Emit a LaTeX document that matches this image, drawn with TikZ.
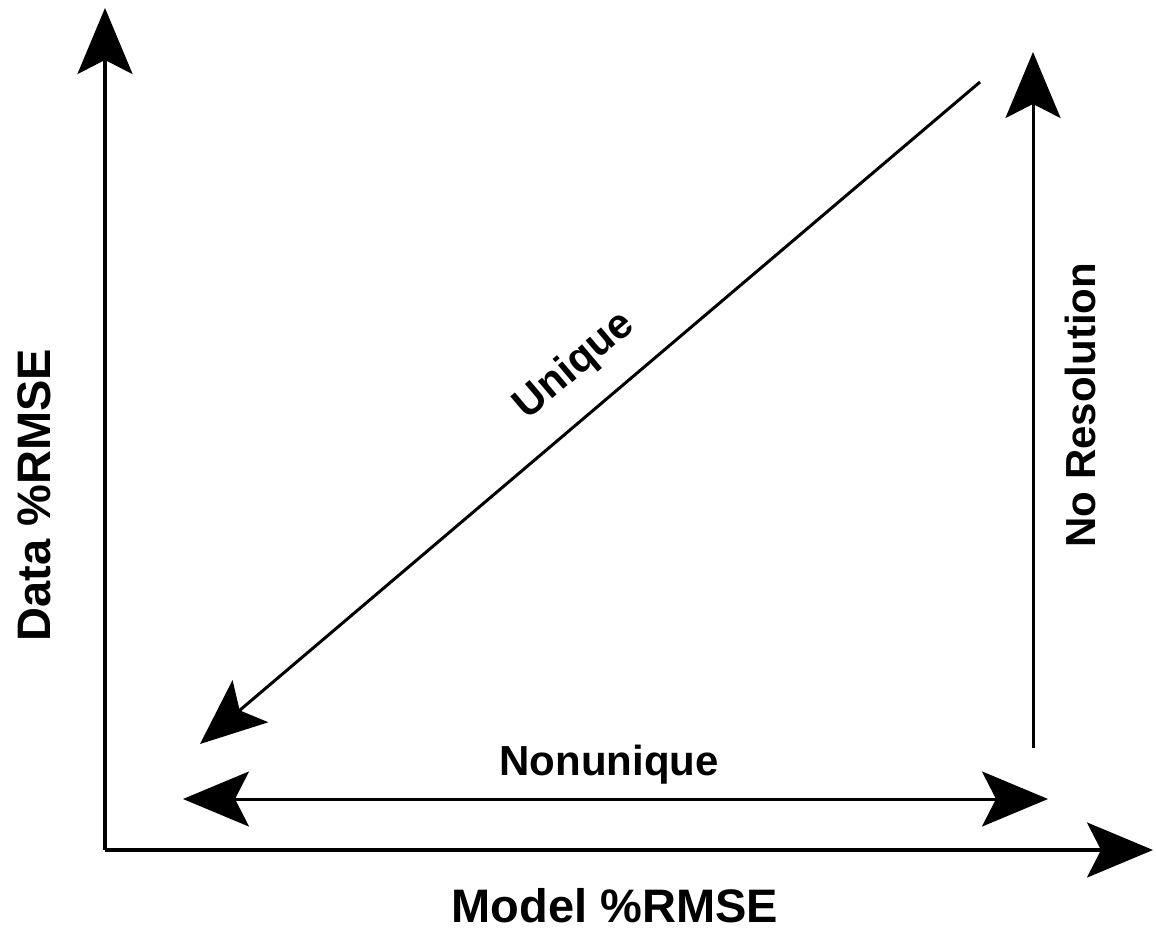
\documentclass[tikz,border=0pt]{standalone}
\usepackage{fontspec}
\setmainfont{Liberation Sans}
\usetikzlibrary{arrows.meta}
\begin{document}
\begin{tikzpicture}[x=1pt,y=-1pt,
  tip/.style={-{Stealth[length=66pt,width=55pt,inset=14pt]}},
  axis/.style={line width=3.4pt,tip},
  flow/.style={line width=3pt},
  lbl/.style={font=\bfseries\fontsize{42}{46}\selectfont,inner sep=0pt},
  axlbl/.style={font=\bfseries\fontsize{47}{52}\selectfont,inner sep=0pt}]
\useasboundingbox (0,0) rectangle (1156,928);
% axes
\coordinate (origin) at (105,850);
\coordinate (ytip) at (105,8);
\coordinate (xtip) at (1153,850);
\draw[axis] (origin) -- (ytip);
\draw[axis] (origin) -- (xtip);
\node[axlbl] (xlabel) at (615,906) {Model \%RMSE};
\node[axlbl,rotate=90] (ylabel) at (34,495) {Data \%RMSE};
% unique trend
\coordinate (dstart) at (980,82);
\coordinate (dend) at (200,744);
\draw[flow,tip] (dstart) -- (dend);
\node[lbl,rotate=40.3] (unique) at (575,366) {Unique};
% nonunique range
\coordinate (nleft) at (183,799);
\coordinate (nright) at (1048,799);
\draw[flow,{Stealth[length=66pt,width=55pt,inset=14pt]}-{Stealth[length=66pt,width=55pt,inset=14pt]}] (nleft) -- (nright);
\node[lbl] (nonunique) at (609,765) {Nonunique};
% no resolution
\coordinate (rbot) at (1033,748);
\coordinate (rtop) at (1033,52);
\draw[flow,tip] (rbot) -- (rtop);
\node[lbl,rotate=90] (nores) at (1080,405) {No Resolution};
\end{tikzpicture}
\end{document}
